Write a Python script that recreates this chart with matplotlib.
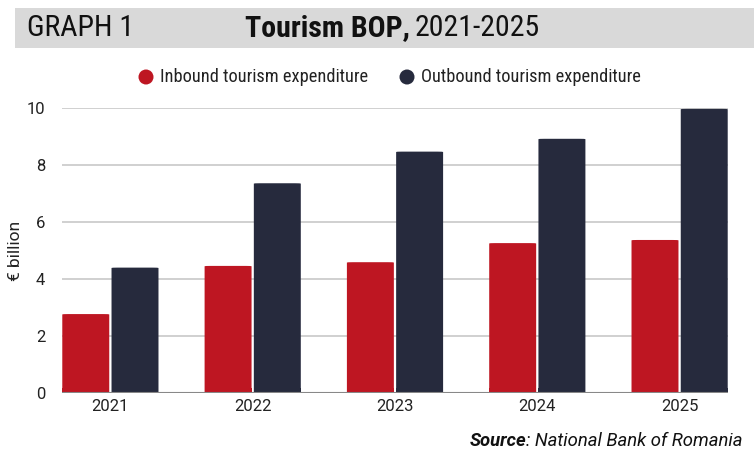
import matplotlib
matplotlib.use("Agg")
import matplotlib.pyplot as plt
import numpy as np
from matplotlib.patches import Rectangle, FancyBboxPatch, Ellipse
from matplotlib import font_manager

years = ["2021", "2022", "2023", "2024", "2025"]
inbound = [2.78, 4.47, 4.60, 5.27, 5.38]
outbound = [4.41, 7.37, 8.48, 8.93, 9.98]
series_names = ["Inbound tourism expenditure", "Outbound tourism expenditure"]
yticks = [0, 2, 4, 6, 8, 10]

RED = "#BE1622"
NAVY = "#262A3D"

plt.rcParams['font.family'] = ['Roboto', 'DejaVu Sans']

names = {f.name for f in font_manager.fontManager.ttflist}
if 'Roboto Condensed' in names:
    COND = 'Roboto Condensed'
elif 'Liberation Sans Narrow' in names:
    COND = 'Liberation Sans Narrow'
else:
    COND = 'Roboto'

fig = plt.figure(figsize=(7.54, 4.5), dpi=100)
ax = fig.add_axes([62/754, (450-393.3)/450, (728-62)/754, (393.3-108.3)/450])

x = np.arange(len(years))
w = 0.33
off = 0.173
for xi, v in zip(x, inbound):
    ax.add_patch(FancyBboxPatch((xi - off - w/2, 0), w, v,
                 boxstyle="round,pad=0,rounding_size=0.04", mutation_aspect=0.3,
                 facecolor=RED, edgecolor="none", zorder=3))
for xi, v in zip(x, outbound):
    ax.add_patch(FancyBboxPatch((xi + off - w/2, 0), w, v,
                 boxstyle="round,pad=0,rounding_size=0.04", mutation_aspect=0.3,
                 facecolor=NAVY, edgecolor="none", zorder=3))
ax.bar(x - off, [0.2]*len(x), w, color=RED, zorder=3)
ax.bar(x + off, [0.2]*len(x), w, color=NAVY, zorder=3)

ax.set_xlim(-0.34, 4.34)
ax.set_ylim(0, 10)
ax.set_yticks(yticks)
ax.set_yticklabels([str(t) for t in yticks], fontsize=12, color="#222222")
ax.set_xticks(x)
ax.set_xticklabels(years, fontsize=12, color="#222222")
ax.tick_params(axis='both', length=0)
ax.tick_params(axis='y', pad=12)
ax.tick_params(axis='x', pad=4)
ax.grid(axis='y', color="#c8c8c8", linewidth=1.2, zorder=0)
for s in ax.spines.values():
    s.set_visible(False)
ax.axhline(0, color="#888888", linewidth=1.5, zorder=4)
fig.text(15/754, 1 - 251/450, "€ billion", fontsize=12.5, rotation=90,
         ha="center", va="center", color="#222222")

# header band
fig.patches.append(Rectangle((15/754, 1 - 48/450), 1 - 15/754, 40/450,
                             transform=fig.transFigure, facecolor="#d9d9d9",
                             edgecolor="none", zorder=0))
hy = 1 - 28/450
HF = 21.5
fig.text(27/754, hy, "GRAPH 1", fontsize=HF, va="center", ha="left", color="#111111",
         family=[COND, 'DejaVu Sans'])
t1 = fig.text(245/754, hy, "Tourism BOP,", fontsize=HF, fontweight="bold",
              va="center", ha="left", color="#111111", family=[COND, 'DejaVu Sans'])
fig.canvas.draw()
bb = t1.get_window_extent()
fig.text((bb.x1 + 5)/754, hy, "2021-2025", fontsize=HF, va="center", ha="left",
         color="#111111", family=[COND, 'DejaVu Sans'])

# legend
ly = 1 - 77/450
LF = 13.2
fig.patches.append(Ellipse((146/754, ly), 15/754, 15/450,
                   transform=fig.transFigure, facecolor=RED, edgecolor="none"))
fig.text(160/754, ly, series_names[0], fontsize=LF, va="center", ha="left",
         color="#222222", family=[COND, 'DejaVu Sans'])
fig.patches.append(Ellipse((407/754, ly), 15/754, 15/450,
                   transform=fig.transFigure, facecolor=NAVY, edgecolor="none"))
fig.text(421/754, ly, series_names[1], fontsize=LF, va="center", ha="left",
         color="#222222", family=[COND, 'DejaVu Sans'])

# source
s2 = fig.text(743/754, 1 - 441/450, ": National Bank of Romania", fontsize=13.3, style="italic",
              ha="right", va="center", color="#111111")
fig.canvas.draw()
bb2 = s2.get_window_extent()
fig.text(bb2.x0/754, 1 - 441/450, "Source", fontsize=13.3, style="italic", fontweight="bold",
         ha="right", va="center", color="#111111")

fig.savefig("out.png", dpi=100)
